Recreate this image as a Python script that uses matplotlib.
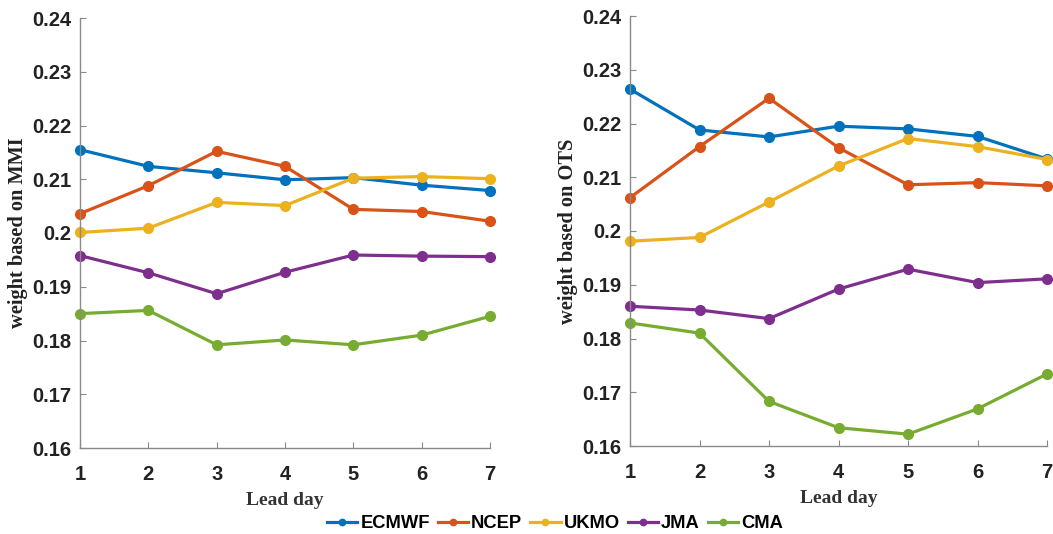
import matplotlib
matplotlib.use("Agg")
import matplotlib.pyplot as plt

days = [1, 2, 3, 4, 5, 6, 7]
models = ["ECMWF", "NCEP", "UKMO", "JMA", "CMA"]
colors = ["#0072BD", "#D95319", "#EDB120", "#7E2F8E", "#77AC30"]

mmi_ecmwf = [0.2155, 0.2124, 0.2112, 0.2099, 0.2103, 0.2089, 0.2079]
mmi_ncep = [0.2036, 0.2088, 0.2152, 0.2124, 0.2044, 0.2040, 0.2022]
mmi_ukmo = [0.2001, 0.2009, 0.2057, 0.2051, 0.2102, 0.2105, 0.2101]
mmi_jma = [0.1958, 0.1926, 0.1887, 0.1927, 0.1959, 0.1957, 0.1956]
mmi_cma = [0.1850, 0.1856, 0.1792, 0.1801, 0.1792, 0.1810, 0.1845]

ots_ecmwf = [0.2264, 0.2188, 0.2175, 0.2195, 0.2190, 0.2176, 0.2134]
ots_ncep = [0.2062, 0.2157, 0.2247, 0.2155, 0.2086, 0.2090, 0.2084]
ots_ukmo = [0.1981, 0.1988, 0.2054, 0.2121, 0.2172, 0.2157, 0.2133]
ots_jma = [0.1860, 0.1853, 0.1837, 0.1892, 0.1929, 0.1904, 0.1911]
ots_cma = [0.1829, 0.1810, 0.1683, 0.1634, 0.1622, 0.1669, 0.1734]

yticks = [0.16, 0.17, 0.18, 0.19, 0.2, 0.21, 0.22, 0.23, 0.24]
ytick_labels = ["0.16", "0.17", "0.18", "0.19", "0.2", "0.21", "0.22", "0.23", "0.24"]

W, H = 1053, 534
fig = plt.figure(figsize=(W / 100, H / 100), dpi=100)
ax1 = fig.add_axes([80 / W, (H - 448) / H, 410 / W, 430 / H])
ax2 = fig.add_axes([630 / W, (H - 446) / H, 417 / W, 430 / H])

sans = "Liberation Sans"
serif = "Liberation Serif"

def draw(ax, series, ylabel):
    handles = []
    for vals, name, c in zip(series, models, colors):
        h, = ax.plot(days, vals, "-o", color=c, lw=2.3, ms=7, label=name, clip_on=False)
        handles.append(h)
    ax.set_xlim(1, 7)
    ax.set_ylim(0.16, 0.24)
    ax.set_xticks(days)
    ax.set_xticklabels([str(d) for d in days], fontfamily=sans, fontweight="bold", fontsize=14.5)
    ax.set_yticks(yticks)
    ax.set_yticklabels(ytick_labels, fontfamily=sans, fontweight="bold", fontsize=14.5)
    for s in ["top", "right"]:
        ax.spines[s].set_visible(False)
    for s in ["left", "bottom"]:
        ax.spines[s].set_color("#8a8a8a")
        ax.spines[s].set_linewidth(1.0)
    ax.tick_params(direction="in", length=4, width=0.8, color="#8a8a8a", labelcolor="#222222")
    ax.tick_params(axis="y", pad=6)
    ax.tick_params(axis="x", pad=12)
    ax.set_xlabel("Lead day", fontfamily=serif, fontweight="bold", fontsize=14, color="#333333", labelpad=6)
    ax.set_ylabel(ylabel, fontfamily=serif, fontweight="bold", fontsize=14.7, color="#222222", labelpad=3)
    return handles

handles = draw(ax1, [mmi_ecmwf, mmi_ncep, mmi_ukmo, mmi_jma, mmi_cma], "weight based on MMI")
draw(ax2, [ots_ecmwf, ots_ncep, ots_ukmo, ots_jma, ots_cma], "weight based on OTS")

fig.legend(handles=handles, labels=models, loc="center", bbox_to_anchor=(555 / W, (H - 524) / H),
           ncol=5, frameon=False, handlelength=1.64, handletextpad=0.16, columnspacing=0.45,
           borderpad=0.2, prop={"family": sans, "weight": "bold", "size": 13.2}, markerscale=0.65)

fig.savefig("out.png", dpi=100)
